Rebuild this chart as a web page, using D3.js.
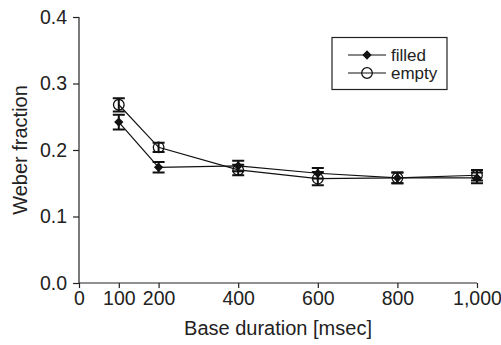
<!DOCTYPE html>
<html>
<head>
<meta charset="utf-8">
<script src="https://cdn.jsdelivr.net/npm/d3@7"></script>
<style>
    body{ margin:0; background:#fff; }
    text{ font-family:"Liberation Sans", Arial, sans-serif; fill:#222; }
</style>
</head>
<body>
<div id="chart"></div>
<script>
// data
const durations = [100, 200, 400, 600, 800, 1000];
const filledMean = [0.242, 0.174, 0.176, 0.165, 0.158, 0.158];
const filledErr  = [0.011, 0.008, 0.008, 0.008, 0.008, 0.008];
const emptyMean  = [0.268, 0.204, 0.170, 0.157, 0.158, 0.162];
const emptyErr   = [0.010, 0.007, 0.008, 0.010, 0.008, 0.008];
const xTicks = [0, 100, 200, 400, 600, 800, 1000];
const yTicks = [0, 0.1, 0.2, 0.3, 0.4];
const seriesNames = ['filled', 'empty'];

const width = 501, height = 345;

const svg = d3.select('#chart').append('svg')
    .attr('width', width)
    .attr('height', height);

const x = d3.scaleLinear().domain([0, 1000]).range([79, 477]);
const y = d3.scaleLinear().domain([0, 0.4]).range([283, 17]);

// axes
const xAxis = svg.append('g')
    .attr('transform', `translate(0,${y(0)})`)
    .call(d3.axisBottom(x).tickValues(xTicks).tickSize(5).tickPadding(3)
        .tickFormat(d3.format(',')));
const yAxis = svg.append('g')
    .attr('transform', `translate(${x(0)},0)`)
    .call(d3.axisLeft(y).tickValues(yTicks).tickSize(6).tickPadding(6)
        .tickFormat(d3.format('.1f')));

[xAxis, yAxis].forEach(g => {
    g.select('.domain').attr('stroke', '#222').attr('stroke-width', 1.2);
    g.selectAll('.tick line').attr('stroke', '#222').attr('stroke-width', 1.2);
    g.selectAll('.tick text').style('font-size', '19.5px').attr('fill', '#222');
});
// no outer ticks on the axis lines
xAxis.select('.domain').attr('d', `M${x(0)},0H${x(1000)}`);
yAxis.select('.domain').attr('d', `M0,${y(0.4)}V${y(0)}`);

// titles
svg.append('text')
    .attr('x', (x(0) + x(1000)) / 2)
    .attr('y', 335)
    .attr('text-anchor', 'middle')
    .style('font-size', '20px')
    .text('Base duration [msec]');
svg.append('text')
    .attr('transform', `translate(27,${y(0.2)}) rotate(-90)`)
    .attr('text-anchor', 'middle')
    .style('font-size', '20px')
    .text('Weber fraction');

const series = [
    {name: 'filled', mean: filledMean, err: filledErr},
    {name: 'empty', mean: emptyMean, err: emptyErr}
];

const line = d3.line()
    .x(d => x(d[0]))
    .y(d => y(d[1]));

const plot = svg.append('g');

// lines first
plot.selectAll('path.series')
    .data(series)
    .join('path')
    .classed('series', true)
    .attr('fill', 'none')
    .attr('stroke', '#111')
    .attr('stroke-width', 1.2)
    .attr('d', s => line(durations.map((d, i) => [d, s.mean[i]])));

// error bars
const capW = 6;
series.forEach(s => {
    const g = plot.append('g').attr('class', 'err ' + s.name);
    durations.forEach((d, i) => {
        const cx = x(d), top = y(s.mean[i] + s.err[i]), bot = y(s.mean[i] - s.err[i]);
        g.append('path')
            .attr('d', `M${cx},${top}V${bot}M${cx - capW},${top}H${cx + capW}M${cx - capW},${bot}H${cx + capW}`)
            .attr('stroke', '#111')
            .attr('stroke-width', 2)
            .attr('fill', 'none');
    });
});

// markers
const diamond = d3.symbol().type(d3.symbolDiamond2).size(55);
const drawMarker = (g, name, cx, cy) => {
    if (name === 'filled') {
        g.append('path')
            .attr('d', diamond())
            .attr('transform', `translate(${cx},${cy})`)
            .attr('fill', '#111');
    } else {
        g.append('circle')
            .attr('cx', cx).attr('cy', cy).attr('r', 5.3)
            .attr('fill', 'none')
            .attr('stroke', '#111')
            .attr('stroke-width', 1.3);
    }
};
series.forEach(s => {
    durations.forEach((d, i) => drawMarker(plot, s.name, x(d), y(s.mean[i])));
});

// legend
const legend = svg.append('g');
legend.append('rect')
    .attr('x', 332).attr('y', 37.5)
    .attr('width', 115).attr('height', 52)
    .attr('fill', '#fff')
    .attr('stroke', '#222')
    .attr('stroke-width', 1.2);
seriesNames.forEach((n, i) => {
    const ly = 55 + i * 18;
    legend.append('line')
        .attr('x1', 348).attr('x2', 386)
        .attr('y1', ly).attr('y2', ly)
        .attr('stroke', '#111').attr('stroke-width', 1.2);
    drawMarker(legend, n, 367, ly);
    legend.append('text')
        .attr('x', 391).attr('y', ly)
        .attr('dy', '0.35em')
        .style('font-size', '17px')
        .text(n);
});
</script>
</body>
</html>
